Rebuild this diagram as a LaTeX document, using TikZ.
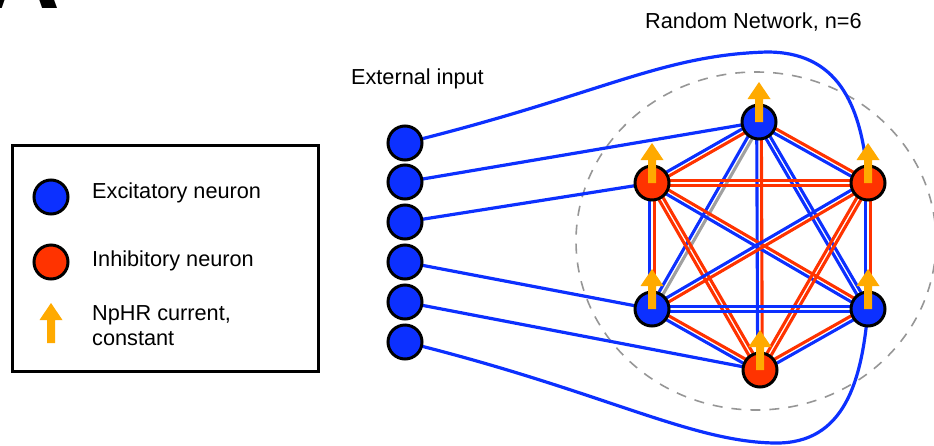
\documentclass[tikz,border=0pt]{standalone}
\usepackage{fontspec}
\setmainfont{Liberation Sans}
\usetikzlibrary{calc}
\pgfdeclarelayer{background}
\pgfsetlayers{background,main}
\definecolor{eblue}{RGB}{12,48,255}
\definecolor{ired}{RGB}{255,51,0}
\definecolor{npo}{RGB}{255,170,0}
\definecolor{dgray}{RGB}{150,150,150}
\definecolor{sgray}{RGB}{160,160,160}
\tikzset{
  neuron/.style={circle, draw=black, line width=3pt, minimum size=34pt, inner sep=0pt},
  exc/.style={neuron, fill=eblue},
  inh/.style={neuron, fill=ired},
  syn/.style={line width=3.1pt},
  inlink/.style={draw=eblue, line width=3.2pt},
  lbl/.style={font=\fontsize{21.7}{25}\selectfont, inner sep=0pt},
  npharrow/.pic={\fill[npo] (-4,0) -- (-4,-23) -- (-11.5,-23) -- (0,-40) -- (11.5,-23) -- (4,-23) -- (4,0) -- cycle;}
}
\newcommand\synpair[4]{%
  \draw[syn,#3] ($(#1.center)!2.3pt!-90:(#2.center)$) -- ($(#2.center)!2.3pt!90:(#1.center)$);
  \draw[syn,#4] ($(#1.center)!2.3pt!90:(#2.center)$) -- ($(#2.center)!2.3pt!-90:(#1.center)$);}
\begin{document}
\begin{tikzpicture}[x=1pt,y=-1pt]
\useasboundingbox (0,0) rectangle (934,445);
\clip (0,0) rectangle (934,445);

% panel letter (cut off at top, as in the reference)
\node[font=\fontsize{105}{105}\selectfont\bfseries, anchor=base west, inner sep=0pt] (panel) at (-16,8) {A};

% legend
\node[draw=black, line width=3pt, minimum width=306pt, minimum height=226pt, inner sep=0pt] (legend) at (165,258) {};
\node[exc] (LE) at (51,197) {};
\node[inh] (LI) at (51,262) {};
\pic at (51,343) {npharrow};
\node[lbl, anchor=base west] (tE) at (92,198) {Excitatory neuron};
\node[lbl, anchor=base west] (tI) at (92,266) {Inhibitory neuron};
\node[lbl, anchor=base west] (tN1) at (92,320) {NpHR current,};
\node[lbl, anchor=base west] (tN2) at (92,345) {constant};

% titles
\node[lbl, anchor=base east] (ext) at (484,84) {External input};
\node[lbl, anchor=base west] (title) at (645,28) {Random Network, n=6};

% external input neurons
\node[exc] (E1) at (405,143) {};
\node[exc] (E2) at (405,182) {};
\node[exc] (E3) at (405,222) {};
\node[exc] (E4) at (405,262) {};
\node[exc] (E5) at (405,302) {};
\node[exc] (E6) at (405,342) {};

% network neurons
\node[exc] (T)  at (759,122) {};
\node[inh] (UL) at (652,183) {};
\node[inh] (UR) at (868,183) {};
\node[exc] (LL) at (652,309) {};
\node[exc] (LR) at (868,309) {};
\node[inh] (B)  at (760,370) {};

\foreach \n in {T,UL,UR,LL,LR,B} { \pic at (\n.center) {npharrow}; }

\begin{pgfonlayer}{background}
  \draw[dgray, line width=1.6pt, dash pattern=on 10pt off 9pt] (756,241) ellipse [x radius=180pt, y radius=169pt];
  % external inputs
  \draw[inlink] (E1.center) .. controls (600,95) and (660,55) .. (767,52)
                .. controls (835,52) and (862,100) .. (UR.center);
  \draw[inlink] (E2.center) -- (T.center);
  \draw[inlink] (E3.center) -- (UL.center);
  \draw[inlink] (E4.center) -- (LL.center);
  \draw[inlink] (E5.center) -- (B.center);
  \draw[inlink] (E6.center) .. controls (600,390) and (690,442) .. (775,443)
                .. controls (845,444) and (862,380) .. (LR.center);
  % recurrent synapses (pairs)
  \synpair{T}{UL}{eblue}{ired}
  \synpair{T}{UR}{eblue}{ired}
  \synpair{T}{B}{eblue}{ired}
  \synpair{T}{LL}{eblue}{sgray}
  \synpair{T}{LR}{eblue}{eblue}
  \synpair{UL}{UR}{ired}{ired}
  \synpair{UL}{LL}{eblue}{ired}
  \synpair{UL}{LR}{eblue}{ired}
  \synpair{UL}{B}{ired}{ired}
  \synpair{UR}{LL}{eblue}{ired}
  \synpair{UR}{LR}{eblue}{ired}
  \synpair{UR}{B}{ired}{ired}
  \synpair{LL}{LR}{eblue}{eblue}
  \synpair{LL}{B}{eblue}{ired}
  \synpair{B}{LR}{eblue}{ired}
\end{pgfonlayer}
\end{tikzpicture}
\end{document}
